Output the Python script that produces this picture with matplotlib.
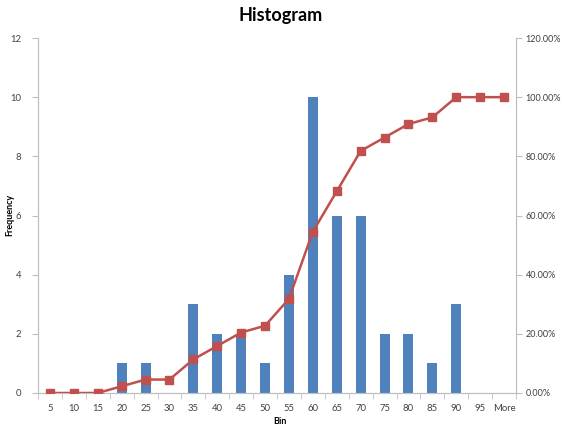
import matplotlib.pyplot as plt
plt.switch_backend('agg')
from matplotlib.ticker import FixedLocator, FuncFormatter

bins = ['5', '10', '15', '20', '25', '30', '35', '40', '45', '50',
        '55', '60', '65', '70', '75', '80', '85', '90', '95', 'More']
frequency = [0, 0, 0, 1, 1, 0, 3, 2, 2, 1, 4, 10, 6, 6, 2, 2, 1, 3, 0, 0]
cumulative_pct = [0.0, 0.0, 0.0, 2.27, 4.55, 4.55, 11.36, 15.91, 20.45, 22.73,
                  31.82, 54.55, 68.18, 81.82, 86.36, 90.91, 93.18, 100.0, 100.0, 100.0]

bar_color = '#4F81BD'
line_color = '#C0504D'
axis_grey = '#BFBFBF'
plt.rcParams['font.family'] = ['Lato', 'DejaVu Sans']

fig = plt.figure(figsize=(5.62, 4.26), dpi=100)
ax = fig.add_axes([38/562, 1 - 393/426, 478/562, 355/426])
ax2 = ax.twinx()

x = list(range(len(bins)))
ax.bar(x, frequency, width=0.42, color=bar_color, zorder=2)
ax2.plot(x, cumulative_pct, color=line_color, linewidth=1.8,
         marker='s', markersize=6, zorder=3)

# Axes limits and ticks
ax.set_xlim(-0.5, len(bins) - 0.5)
ax.set_ylim(0, 12)
ax.set_yticks(range(0, 13, 2))
ax2.set_ylim(0, 120)
ax2.set_yticks(range(0, 121, 20))
ax2.yaxis.set_major_formatter(FuncFormatter(lambda v, p: f'{v:.2f}%'))

ax.set_xticks(x)
ax.set_xticklabels(bins)
ax.xaxis.set_minor_locator(FixedLocator([i - 0.5 for i in range(len(bins) + 1)]))
ax.tick_params(axis='x', which='major', length=0, labelsize=6.8, pad=8, colors='#404040')
ax.tick_params(axis='x', which='minor', length=4, color=axis_grey)
ax.tick_params(axis='y', length=4, color=axis_grey, labelsize=6.8, labelcolor='#404040', pad=8)
ax2.tick_params(axis='y', length=4, color=axis_grey, labelsize=6.5, labelcolor='#404040', pad=3)

for a in (ax, ax2):
    for s in a.spines.values():
        s.set_color(axis_grey)
    a.spines['top'].set_visible(False)

# Keep line above bars
ax.set_zorder(ax2.get_zorder() - 1)
ax.patch.set_visible(True)
ax2.patch.set_visible(False)

fig.text(0.5, 1 - 16/426, 'Histogram', ha='center', va='center', fontsize=13, fontweight='bold')
fig.text(280/562, 1 - 421/426, 'Bin', ha='center', va='center', fontsize=6.5, fontweight='bold')
fig.text(10/562, 1 - 215/426, 'Frequency', ha='center', va='center', rotation=90,
         fontsize=6.5, fontweight='bold')

fig.savefig('out.png', dpi=100)
plt.close()
